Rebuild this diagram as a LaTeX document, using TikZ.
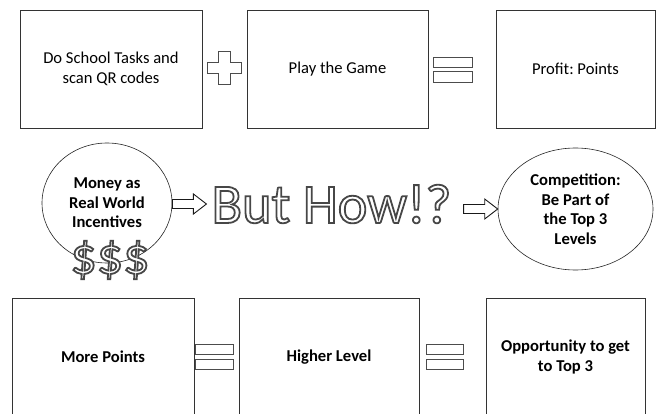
\documentclass[tikz,border=0pt]{standalone}
\usepackage{fontspec}
\setmainfont{Carlito}
\usetikzlibrary{shapes.geometric}
\usetikzlibrary{shadows}
\usetikzlibrary{calc}
\frenchspacing

% white letters with a grey rim (fill and stroke the glyphs)
\newcommand{\rimtext}[1]{{\color{white}%
  \special{pdf:literal direct 0.28 G 1.8 w 2 Tr}#1\special{pdf:literal direct 0 Tr}}}

% hollow block arrow between two anchors
\newcommand{\hollowarrow}[2]{%
  \draw[hollow] let \p1=(#1), \p2=(#2) in
    (\x1,\y2+4.5pt) -- (\x2-13pt,\y2+4.5pt) -- (\x2-13pt,\y2+10pt) -- (\x2,\y2)
    -- (\x2-13pt,\y2-10pt) -- (\x2-13pt,\y2-4.5pt) -- (\x1,\y2-4.5pt) -- cycle;}

\tikzset{
  box/.style={draw=black!80, line width=0.8pt, fill=white, minimum height=118pt,
    align=center, font=\fontsize{16.6}{20}\selectfont,
    drop shadow={shadow xshift=0.8pt, shadow yshift=-0.8pt, opacity=0.25}},
  bubble/.style={ellipse, draw=black!85, line width=0.6pt, fill=white, inner sep=0pt,
    align=center, font=\fontsize{16.6}{19.5}\selectfont\bfseries},
  sign/.style={draw=black!70, line width=0.9pt, fill=white,
    drop shadow={shadow xshift=0.8pt, shadow yshift=-0.8pt, opacity=0.3}},
  hollow/.style={draw=black!90, line width=0.9pt, fill=white},
}

\begin{document}
\begin{tikzpicture}[x=1pt,y=-1pt]
	\useasboundingbox (0,0) rectangle (663,414);

	% first row
	\node[box, minimum width=182pt] (tasks) at (111,69) {Do School Tasks and\\scan QR codes};
	\node[box, minimum width=181pt] (game) at (337.5,69) {Play the Game};
	\node[box, minimum width=159pt] (profit) at (575.5,69) {Profit: Points};

	\draw[sign] (218,51) -- (230,51) -- (230,62) -- (241,62) -- (241,73) -- (230,73)
		-- (230,84) -- (218,84) -- (218,73) -- (207,73) -- (207,62) -- (218,62) -- cycle;
	\draw[sign] (433,57) rectangle (472,67);
	\draw[sign] (433,71) rectangle (472,82);

	% middle row
	\node[bubble, minimum width=130pt, minimum height=120pt] (money) at (107,203) {Money as\\Real World\\Incentives};
	\node[inner sep=0pt, font=\fontsize{52}{52}\selectfont] (dollars) at (110,260) {\rimtext{\$\$\$}};
	\node[inner sep=0pt, font=\fontsize{56}{56}\selectfont] (how) at (331.5,204) {\rimtext{But How!?}};
	\node[bubble, minimum width=155pt, minimum height=122pt] (comp) at (575.5,209) {Competition:\\Be Part of\\the Top 3\\Levels};

	\hollowarrow{money.east}{$(how.west)+(-5,0)$}
	\hollowarrow{$(how.east)+(12,0)$}{comp.west}

	% last row
	\node[box, minimum width=182pt, font=\fontsize{16.6}{20}\selectfont\bfseries] (more) at (103,357) {More Points};
	\node[box, minimum width=180pt, font=\fontsize{16.6}{20}\selectfont\bfseries] (level) at (329,357) {Higher Level};
	\node[box, minimum width=159pt, font=\fontsize{16.6}{20}\selectfont\bfseries] (chance) at (565.5,357) {Opportunity to get\\to Top 3};

	\draw[sign] (195,344) rectangle (233,354);
	\draw[sign] (195,359) rectangle (233,369);
	\draw[sign] (426,344) rectangle (463,354);
	\draw[sign] (426,359) rectangle (463,369);
\end{tikzpicture}
\end{document}
